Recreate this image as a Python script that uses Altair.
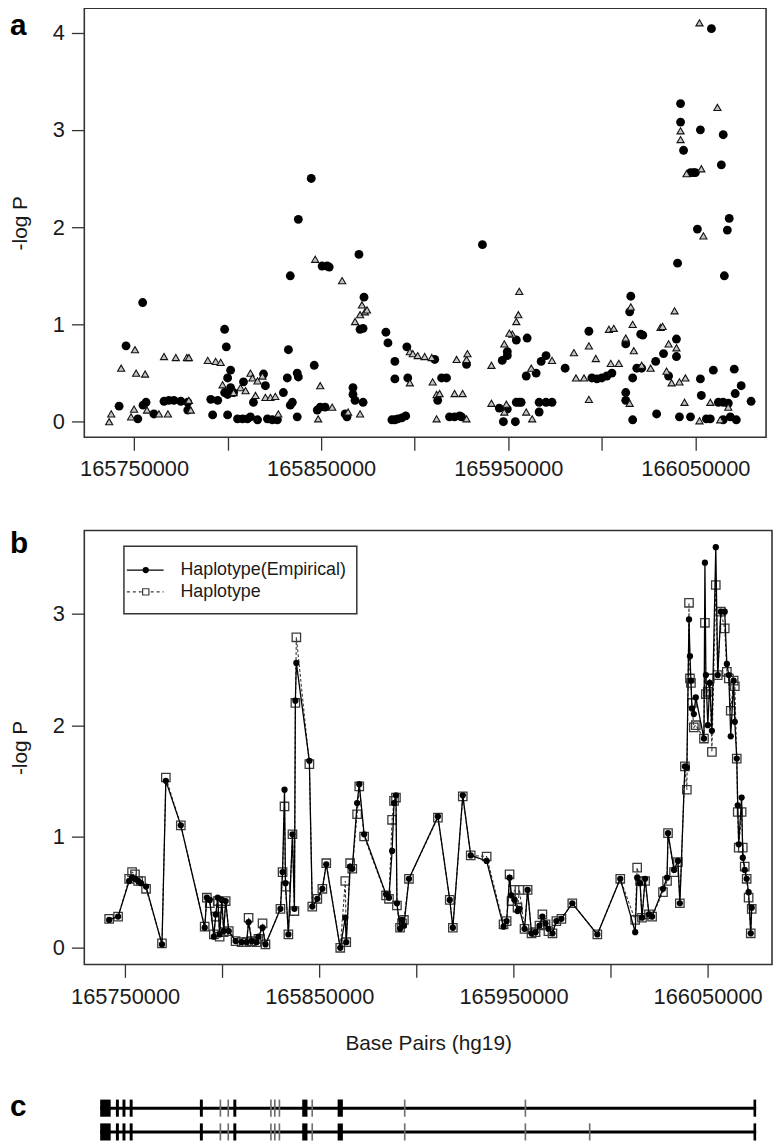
import altair as alt
import pandas as pd

FONT = "Liberation Sans"

# ---------------- panel a : single-marker scan ----------------
a_circle_kb = [165742.0, 165745.7, 165752.0, 165754.6, 165756.4, 165754.8, 165760.6, 165766.0, 165768.6, 165771.3,
               165775.0, 165778.7, 165778.7, 165791.0, 165792.0, 165794.7, 165798.4, 165799.3, 165801.6, 165800.0,
               165798.4, 165801.6, 165800.0, 165803.2, 165800.0, 165805.3, 165808.0, 165810.6, 165812.2, 165808.5,
               165813.8, 165819.2, 165820.2, 165816.0, 165821.3, 165823.9, 165826.6, 165829.8, 165831.9, 165832.5,
               165833.5, 165837.8, 165837.2, 165837.8, 165834.6, 165833.5, 165837.2, 165844.7, 165846.3, 165850.5,
               165853.2, 165854.3, 165847.9, 165849.5, 165852.1, 165870.2, 165872.9, 165870.8, 165872.4, 165867.0,
               165867.0, 165868.1, 165872.4, 165863.8, 165862.8, 165884.6, 165885.7, 165889.4, 165889.4, 165887.8,
               165889.4, 165891.0, 165893.1, 165895.2, 165895.8, 165896.3, 165910.7, 165914.4, 165917.0, 165912.3,
               165918.6, 165921.3, 165924.0, 165925.0, 165927.7, 165936.2, 165946.8, 165949.5, 165949.5, 165954.3,
               165960.1, 165945.2, 165949.5, 165947.4, 165953.8, 165954.3, 165955.9, 165956.9, 165959.6, 165964.9,
               165967.6, 165970.2, 165966.5, 165970.2, 165973.4, 165966.5, 165980.4, 165993.1, 165994.7, 165997.4,
               166000.0, 166002.7, 166005.4, 166015.5, 166014.9, 166012.8, 166012.8, 166012.8, 166016.5, 166016.5,
               166020.8, 166021.9, 166018.7, 166021.3, 166028.8, 166029.3, 166033.0, 166035.7, 166039.9, 166039.9,
               166040.5, 166042.1, 166042.1, 166043.7, 166047.4, 166049.0, 166050.0, 166052.7, 166051.1, 166058.6,
               166064.9, 166063.9, 166068.1, 166067.1, 166065.5, 166041.5, 166047.4, 166052.7, 166053.2, 166055.9,
               166058.0, 166059.6, 166062.3, 166064.9, 166067.6, 166068.7, 166064.9, 166070.8, 166071.3, 166071.9,
               166074.5, 166079.8]
a_circle_logp = [0.16, 0.78, 0.03, 1.225, 0.2, 0.17, 0.08, 0.21, 0.22, 0.22,
                 0.21, 0.2, 0.12, 0.23, 0.07, 0.22, 0.95, 0.77, 0.53, 0.45,
                 0.3, 0.35, 0.28, 0.3, 0.07, 0.03, 0.03, 0.03, 0.05, 0.41,
                 0.2, 0.49, 0.37, 0.02, 0.03, 0.02, 0.02, 0.3, 0.45, 0.74,
                 1.5, 2.08, 0.5, 0.46, 0.2, 0.17, 0.05, 2.5, 0.58, 1.6,
                 1.6, 1.59, 0.12, 0.15, 0.15, 1.72, 1.28, 0.95, 0.96, 0.35,
                 0.28, 0.22, 0.2, 0.05, 0.08, 0.92, 0.81, 0.62, 0.44, 0.02,
                 0.02, 0.03, 0.04, 0.06, 0.77, 0.45, 0.64, 0.45, 0.45, 0.22,
                 0.05, 0.05, 0.06, 0.05, 0.59, 1.82, 0.63, 0.72, 0.68, 0.84,
                 0.86, 0.14, 0.13, 0.0, 0.0, 0.2, 0.2, 0.2, 0.47, 0.5,
                 0.62, 0.68, 0.2, 0.2, 0.2, 0.1, 0.55, 0.93, 0.45, 0.44,
                 0.45, 0.47, 0.5, 1.29, 1.13, 0.8, 0.3, 0.22, 0.45, 0.02,
                 0.9, 0.89, 0.55, 0.55, 0.62, 0.08, 0.7, 0.47, 0.85, 0.67,
                 1.63, 3.27, 3.08, 2.79, 2.56, 2.56, 2.56, 3.0, 1.98, 4.04,
                 2.95, 2.64, 2.09, 1.97, 1.5, 0.05, 0.05, 0.44, 0.27, 0.03,
                 0.03, 0.53, 0.2, 0.2, 0.19, 0.05, 0.02, 0.54, 0.29, 0.02,
                 0.37, 0.21]

a_triangle_kb = [165736.7, 165737.8, 165743.1, 165750.5, 165751.1, 165755.9, 165748.4, 165750.0, 165756.9, 165766.0,
                 165772.3, 165778.2, 165779.3, 165763.3, 165768.1, 165779.3, 165780.3, 165789.4, 165793.6, 165796.3,
                 165797.3, 165803.2, 165806.9, 165812.2, 165813.3, 165816.0, 165818.6, 165809.6, 165814.9, 165820.2,
                 165822.9, 165825.5, 165827.1, 165846.8, 165861.2, 165849.5, 165848.4, 165855.9, 165868.1, 165870.8,
                 165873.4, 165874.5, 165871.8, 165864.4, 165870.8, 165897.4, 165899.0, 165901.6, 165905.3, 165909.1,
                 165897.4, 165909.6, 165911.7, 165913.3, 165911.7, 165922.4, 165927.7, 165928.2, 165921.3, 165925.6,
                 165927.7, 165941.0, 165941.0, 165947.9, 165949.0, 165955.9, 165955.4, 165954.3, 165952.2, 165950.6,
                 165947.9, 165973.4, 165962.3, 165959.6, 165962.8, 165985.1, 165986.2, 165990.5, 165993.1, 165993.1,
                 165996.8, 166003.8, 166006.4, 166004.8, 166015.5, 166016.5, 166017.1, 166012.8, 166014.9, 166009.1,
                 166021.3, 166026.1, 166031.4, 166032.5, 166034.6, 166037.3, 166041.5, 166035.7, 166038.9, 166039.9,
                 166042.1, 166042.1, 166045.3, 166052.2, 166053.2, 166054.3, 166061.8, 166044.7, 166044.2, 166052.2,
                 166058.0, 166063.3, 166067.6]
a_triangle_logp = [0.0, 0.08, 0.55, 0.74, 0.5, 0.49, 0.05, 0.13, 0.12, 0.67,
                   0.66, 0.66, 0.66, 0.08, 0.08, 0.22, 0.12, 0.63, 0.62, 0.61,
                   0.38, 0.3, 0.35, 0.5, 0.45, 0.42, 0.47, 0.32, 0.27, 0.25,
                   0.25, 0.26, 0.08, 1.67, 1.45, 0.37, 0.03, 0.15, 1.03, 1.1,
                   1.13, 1.15, 1.2, 0.1, 0.08, 0.72, 0.7, 0.68, 0.67, 0.66,
                   0.4, 0.41, 0.28, 0.29, 0.03, 0.64, 0.64, 0.7, 0.29, 0.29,
                   0.03, 0.58, 0.19, 0.1, 0.18, 1.34, 1.1, 1.03, 0.9, 0.91,
                   0.8, 0.63, 0.55, 0.1, 0.03, 0.71, 0.45, 0.45, 0.78, 0.23,
                   0.65, 0.95, 0.96, 0.6, 1.18, 1.0, 0.73, 0.86, 0.19, 0.6,
                   0.58, 0.55, 0.97, 0.98, 0.52, 0.4, 0.41, 0.8, 1.14, 0.76,
                   2.99, 2.9, 2.55, 4.1, 2.6, 1.91, 3.23, 0.45, 0.2, 0.01,
                   0.2, 0.02, 0.15]

# ---------------- panel b : haplotype scan ----------------
b_series = ["Haplotype(Empirical)", "Haplotype"]
b_bp = [165741800, 165746400, 165752100, 165753600, 165755100, 165756700, 165758200, 165760800, 165769000, 165771000,
        165778700, 165791000, 165792100, 165793600, 165795700, 165796700, 165797700, 165798700, 165799800, 165800800,
        165801800, 165803400, 165806900, 165810000, 165812600, 165813600, 165815200, 165817700, 165818700, 165820800,
        165822300, 165830000, 165831100, 165832100, 165832600, 165834100, 165836200, 165837200, 165837700, 165838200,
        165844900, 165846400, 165849000, 165851600, 165853600, 165860800, 165863400, 165863900, 165865900, 165867000,
        165869500, 165870600, 165873100, 165884400, 165885900, 165887500, 165888500, 165889500, 165890000, 165891600,
        165892600, 165893600, 165896200, 165911100, 165917200, 165918800, 165923900, 165928000, 165936200, 165944900,
        165946500, 165948000, 165949000, 165950600, 165952100, 165953100, 165955700, 165957300, 165959300, 165961400,
        165963400, 165964900, 165966500, 165968000, 165970100, 165972100, 165974700, 165980300, 165993200, 166005000,
        166012700, 166013700, 166015200, 166016200, 166017800, 166019800, 166021400, 166027000, 166029100, 166029600,
        166032700, 166034700, 166035700, 166038300, 166039300, 166040400, 166040900, 166041400, 166041900, 166042900,
        166043900, 166048100, 166048600, 166049100, 166050100, 166051100, 166052200, 166054200, 166055200, 166056800,
        166058800, 166059900, 166060900, 166061900, 166063400, 166064000, 166065000, 166065500, 166066000, 166067500,
        166068100, 166069100, 166070100, 166071100, 166072200, 166072700]
b_empirical = [0.25, 0.28, 0.60, 0.63, 0.62, 0.60, 0.58, 0.55, 0.03, 1.50,
               1.10, 0.18, 0.45, 0.43, 0.10, 0.30, 0.45, 0.12, 0.43, 0.15,
               0.42, 0.15, 0.06, 0.05, 0.05, 0.23, 0.06, 0.05, 0.10, 0.18,
               0.03, 0.35, 0.68, 1.42, 0.58, 0.12, 1.02, 0.35, 2.22, 2.56,
               1.68, 0.37, 0.44, 0.53, 0.75, 0.0, 0.27, 0.05, 0.73, 0.71,
               1.30, 1.47, 1.02, 0.48, 0.45, 0.87, 1.30, 1.37, 0.40, 0.17,
               0.25, 0.20, 0.62, 1.18, 0.43, 0.18, 1.37, 0.83, 0.78, 0.19,
               0.24, 0.63, 0.47, 0.43, 0.33, 0.35, 0.17, 0.52, 0.13, 0.14,
               0.20, 0.28, 0.22, 0.17, 0.13, 0.24, 0.26, 0.40, 0.12, 0.62,
               0.14, 0.63, 0.58, 0.27, 0.62, 0.30, 0.28, 0.53, 0.63, 1.03,
               0.70, 0.78, 0.40, 1.63, 1.62, 2.95, 2.62, 2.40, 2.15, 2.10,
               2.25, 1.88, 3.46, 2.45, 2.00, 2.38, 1.95, 3.60, 2.45, 3.02,
               3.02, 2.55, 2.45, 1.90, 2.40, 2.03, 1.70, 1.28, 0.93, 1.35,
               0.81, 0.70, 0.62, 0.50, 0.13, 0.36]
b_haplotype = [0.26, 0.28, 0.62, 0.68, 0.66, 0.60, 0.60, 0.53, 0.04, 1.53,
               1.10, 0.19, 0.45, 0.40, 0.12, 0.28, 0.42, 0.10, 0.40, 0.14,
               0.42, 0.15, 0.06, 0.05, 0.05, 0.27, 0.06, 0.05, 0.08, 0.22,
               0.03, 0.35, 0.68, 1.27, 0.55, 0.12, 1.02, 0.33, 2.20, 2.79,
               1.65, 0.37, 0.44, 0.53, 0.76, 0.0, 0.60, 0.05, 0.76, 0.71,
               1.20, 1.45, 1.00, 0.47, 0.44, 1.15, 1.32, 1.35, 0.38, 0.18,
               0.22, 0.25, 0.62, 1.17, 0.43, 0.18, 1.36, 0.83, 0.82, 0.21,
               0.24, 0.66, 0.42, 0.52, 0.36, 0.52, 0.17, 0.52, 0.13, 0.14,
               0.20, 0.30, 0.21, 0.15, 0.13, 0.24, 0.26, 0.40, 0.12, 0.62,
               0.25, 0.72, 0.60, 0.27, 0.60, 0.30, 0.28, 0.50, 0.60, 1.03,
               0.68, 0.77, 0.40, 1.63, 1.42, 3.10, 2.42, 2.38, 2.20, 1.98,
               2.00, 1.88, 2.92, 2.28, 2.30, 2.42, 1.76, 3.26, 2.45, 3.02,
               2.87, 2.48, 2.42, 2.13, 2.40, 2.35, 1.70, 1.22, 0.90, 1.22,
               0.90, 0.73, 0.62, 0.45, 0.13, 0.35]

# ---------------- panel c : gene model (relative position along gene, 0-100) ----------------
exon_start = [0.0, 2.4, 3.4, 4.5, 15.2, 18.2, 19.4, 20.3, 25.9, 26.5, 27.2, 30.8, 32.2, 36.2, 46.3, 64.7, 74.5, 99.6]
exon_end = [1.6, 2.85, 3.85, 4.95, 15.65, 18.45, 19.65, 20.75, 26.15, 26.75, 27.45, 31.6, 32.45, 37.0, 46.55, 64.95, 74.75, 100.0]
exon_kind = ["thick", "thick", "thick", "thick", "thick", "thin", "thin", "thick", "thin", "thin", "thin",
             "thick", "thin", "thick", "thin", "thin", "thin", "thick"]
exon_in_row1 = [True] * 16 + [False] + [True]
gene_span = [0.0, 100.0]
transcripts = [1, 2]

x_ticks = [165750000, 165800000, 165850000, 165900000, 165950000, 166000000, 166050000]
panel_letters = ["a", "b", "c"]

# ---------------- tables ----------------
df_a_circ = pd.DataFrame({"bp": [k * 1000 for k in a_circle_kb], "logp": a_circle_logp})
df_a_tri = pd.DataFrame({"bp": [k * 1000 for k in a_triangle_kb], "logp": a_triangle_logp})
df_b = pd.DataFrame({"bp": b_bp, "emp": b_empirical, "hap": b_haplotype})

rows = []
for r in transcripts:
    for s, e, k, in1 in zip(exon_start, exon_end, exon_kind, exon_in_row1):
        if r == 2 or in1:
            rows.append({"row": r, "start": s, "end": e, "kind": k})
df_exon = pd.DataFrame(rows)
df_gene = pd.DataFrame({"row": transcripts, "start": [gene_span[0]] * 2, "end": [gene_span[1]] * 2})

TXT = "#1a1a1a"


def x_axis(title=None):
    return alt.Axis(values=x_ticks,
                    labelExpr="datum.value % 100000 == 50000 ? format(datum.value, 'd') : ''",
                    tickSize=13, tickWidth=1.3, tickColor="#333", domain=False, grid=False,
                    labelFontSize=22, labelPadding=9, labelColor=TXT, labelFont=FONT,
                    labelFlush=False, labelOverlap=False, title=title,
                    titleFontSize=21, titleFontWeight="normal", titleFont=FONT, titleColor=TXT,
                    titlePadding=26)


def y_axis(vals):
    return alt.Axis(values=vals, format="d", tickSize=13, tickWidth=1.3, tickColor="#333",
                    domain=False, grid=False, labelFontSize=22, labelPadding=7, labelColor=TXT,
                    labelFont=FONT, labelOverlap=False, labelFlush=False, title="-log P",
                    titleFontSize=21, titleFontWeight="normal", titleFont=FONT, titleColor=TXT,
                    titlePadding=22)


def letter(ch, ypos):
    return alt.Chart(pd.DataFrame({"t": [ch]})).mark_text(
        font=FONT, fontSize=30, fontWeight="bold", align="left", baseline="alphabetic", color="black"
    ).encode(x=alt.value(-75), y=alt.value(ypos), text="t:N")


# ---------------- panel a ----------------
xa = alt.X("bp:Q", scale=alt.Scale(domain=[165723400, 166087800], nice=False, zero=False), axis=x_axis())
ya = alt.Y("logp:Q", scale=alt.Scale(domain=[-0.16, 4.25], nice=False, zero=False), axis=y_axis([0, 1, 2, 3, 4]))

a_circ = alt.Chart(df_a_circ).mark_circle(size=80, color="black", opacity=1).encode(x=xa, y=ya)
a_tri = alt.Chart(df_a_tri).mark_point(shape="triangle-up", size=52, filled=True, fill="#c4c4c4",
                                       stroke="#111", strokeWidth=1.1, opacity=1).encode(x=xa, y=ya)
panel_a = alt.layer(a_circ, a_tri, letter(panel_letters[0], 27)).properties(width=688, height=433)

# ---------------- panel b ----------------
xb = alt.X("bp:Q", scale=alt.Scale(domain=[165729000, 166083150], nice=False, zero=False),
           axis=x_axis("Base Pairs (hg19)"))
yscale_b = alt.Scale(domain=[-0.15, 3.75], nice=False, zero=False)
yb_h = alt.Y("hap:Q", scale=yscale_b, axis=y_axis([0, 1, 2, 3]))
yb_e = alt.Y("emp:Q", scale=yscale_b, axis=y_axis([0, 1, 2, 3]))

hap_line = alt.Chart(df_b).mark_line(color="#3a3a3a", strokeWidth=1.1, strokeDash=[3, 2]).encode(x=xb, y=yb_h)
hap_pts = alt.Chart(df_b).mark_point(shape="square", size=72, filled=False, stroke="#3a3a3a",
                                     strokeWidth=1.3, opacity=1).encode(x=xb, y=yb_h)
emp_line = alt.Chart(df_b).mark_line(color="black", strokeWidth=1.3).encode(x=xb, y=yb_e)
emp_pts = alt.Chart(df_b).mark_circle(size=40, color="black", opacity=1).encode(x=xb, y=yb_e)

one = pd.DataFrame({"k": [0]})
leg_box = alt.Chart(one).mark_rect(fill="white", stroke="#333", strokeWidth=1.5).encode(
    x=alt.value(40), x2=alt.value(275), y=alt.value(16), y2=alt.value(84))
leg_l1 = alt.Chart(one).mark_rule(color="black", strokeWidth=1.3).encode(
    x=alt.value(43), x2=alt.value(80), y=alt.value(40))
leg_l2 = alt.Chart(one).mark_rule(color="#3a3a3a", strokeWidth=1.1, strokeDash=[3, 3]).encode(
    x=alt.value(43), x2=alt.value(80), y=alt.value(62))
leg_p1 = alt.Chart(one).mark_circle(size=40, color="black", opacity=1).encode(x=alt.value(62), y=alt.value(40))
leg_p2 = alt.Chart(one).mark_point(shape="square", size=40, filled=True, fill="white", stroke="#3a3a3a",
                                   strokeWidth=1.2, opacity=1).encode(x=alt.value(62), y=alt.value(62))
leg_t1 = alt.Chart(pd.DataFrame({"t": [b_series[0]]})).mark_text(
    font=FONT, fontSize=18, align="left", baseline="middle", color=TXT).encode(
    x=alt.value(97), y=alt.value(40), text="t:N")
leg_t2 = alt.Chart(pd.DataFrame({"t": [b_series[1]]})).mark_text(
    font=FONT, fontSize=18, align="left", baseline="middle", color=TXT).encode(
    x=alt.value(97), y=alt.value(62), text="t:N")

panel_b = alt.layer(hap_line, hap_pts, emp_line, emp_pts, leg_box, leg_l1, leg_l2, leg_p1, leg_p2,
                    leg_t1, leg_t2, letter(panel_letters[1], 23)).properties(width=694, height=438)

# ---------------- panel c ----------------
xc = alt.Scale(domain=[-2.42, 102.42], nice=False, zero=False)
yc = alt.Scale(domain=[0.5, 2.5], nice=False, zero=False, reverse=True)
intron = alt.Chart(df_gene).mark_rule(color="black", strokeWidth=3).encode(
    x=alt.X("start:Q", scale=xc, axis=None), x2="end:Q", y=alt.Y("row:Q", scale=yc, axis=None))
exons = alt.Chart(df_exon).transform_calculate(
    top="datum.row - 0.36", bot="datum.row + 0.36"
).mark_rect().encode(
    x=alt.X("start:Q", scale=xc, axis=None), x2="end:Q",
    y=alt.Y("top:Q", scale=yc, axis=None), y2="bot:Q",
    color=alt.Color("kind:N", scale=alt.Scale(domain=["thick", "thin"], range=["#000000", "#6e6e6e"]),
                    legend=None))
panel_c = alt.layer(intron, exons, letter(panel_letters[2], 20)).properties(
    width=694, height=48, view=alt.ViewBackground(stroke="transparent"))

top = alt.vconcat(panel_a, panel_b, spacing=48)
chart = alt.vconcat(top, panel_c, spacing=37).properties(
    padding={"top": -6, "left": 0, "right": 0, "bottom": 0}).configure(
    font=FONT, view=alt.ViewConfig(stroke="#333333", strokeWidth=1.6))

chart.save("out.html", embed_options={"renderer": "svg", "actions": False})
